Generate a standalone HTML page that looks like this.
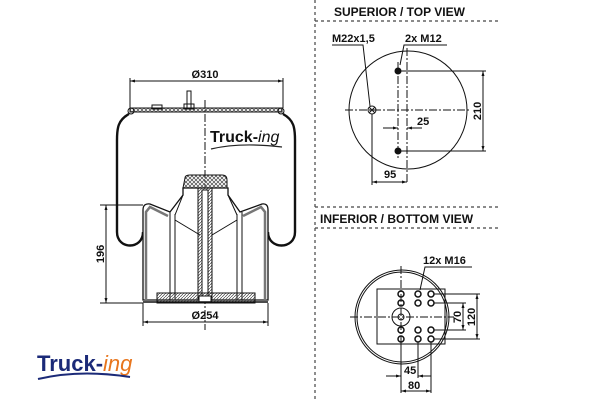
<!DOCTYPE html>
<html><head><style>
body{margin:0;background:#fff;width:600px;height:400px;overflow:hidden}
svg{display:block}
text{font-family:"Liberation Sans",sans-serif;font-weight:bold;fill:#111}
</style></head><body>
<svg width="600" height="400" viewBox="0 0 600 400">
<defs>
<pattern id="hx" width="4" height="4" patternUnits="userSpaceOnUse"><path d="M0 4L4 0M0 0L4 4" stroke="#444" stroke-width="0.7"/></pattern>
<pattern id="hd" width="3" height="3" patternUnits="userSpaceOnUse"><path d="M0 3L3 0" stroke="#444" stroke-width="0.7"/></pattern>
<marker id="a" viewBox="0 0 10 10" refX="10" refY="5" markerWidth="5" markerHeight="5" orient="auto-start-reverse"><path d="M0 2L10 5L0 8z" fill="#111"/></marker>
</defs>
<g stroke="#444" stroke-width="1.2" stroke-dasharray="3,3" fill="none">
<line x1="315" y1="0" x2="315" y2="400"/>
<line x1="315" y1="21" x2="500" y2="21"/>
<line x1="315" y1="207" x2="500" y2="207"/>
<line x1="315" y1="228" x2="500" y2="228"/>
</g>
<text x="334" y="16" font-size="12">SUPERIOR / TOP VIEW</text>
<text x="320" y="223" font-size="12">INFERIOR / BOTTOM VIEW</text>

<!-- TOP VIEW -->
<g stroke="#111" fill="none" stroke-width="1">
<circle cx="408" cy="110" r="59"/>
<line x1="345" y1="110" x2="470" y2="110" stroke-dasharray="8,2,2,2"/>
<line x1="407" y1="48" x2="407" y2="182" stroke-dasharray="8,2,2,2"/>
<line x1="398" y1="62" x2="398" y2="160" stroke-dasharray="8,2,2,2"/>
<circle cx="372" cy="110" r="4"/>
<path d="M369 107l6 6M375 107l-6 6"/>
<line x1="398" y1="71" x2="486" y2="71"/><line x1="398" y1="151" x2="486" y2="151"/>
<line x1="483" y1="71" x2="483" y2="151" marker-start="url(#a)" marker-end="url(#a)"/>
<line x1="383" y1="128" x2="398" y2="128" marker-end="url(#a)"/>
<line x1="422" y1="128" x2="407" y2="128" marker-end="url(#a)"/>
<line x1="372" y1="114" x2="372" y2="185"/>
<line x1="372" y1="182" x2="407" y2="182" marker-start="url(#a)" marker-end="url(#a)"/>
<path d="M332 45H363L370 106" /><path d="M447 45H404L400 65"/>
</g>
<circle cx="398" cy="71" r="3.5" fill="#111"/><circle cx="398" cy="151" r="3.5" fill="#111"/>
<text x="332" y="42" font-size="11">M22x1,5</text>
<text x="405" y="42" font-size="11">2x M12</text>
<text x="417" y="125" font-size="11">25</text>
<text x="384" y="178" font-size="11">95</text>
<text transform="translate(481,111) rotate(-90)" text-anchor="middle" font-size="11">210</text>

<!-- BOTTOM VIEW -->
<g stroke="#111" fill="none" stroke-width="1">
<circle cx="402" cy="317" r="47"/><circle cx="402" cy="317" r="45"/>
<line x1="350" y1="317" x2="454" y2="317" stroke-dasharray="8,2,2,2"/>
<line x1="401" y1="266" x2="401" y2="368" stroke-dasharray="8,2,2,2"/>
<rect x="377" y="289" width="68" height="55"/>
<circle cx="401" cy="317" r="9"/><circle cx="401" cy="317" r="3"/>
<g stroke-width="1.5">
<circle cx="401" cy="294" r="3"/><circle cx="418" cy="294" r="3"/><circle cx="431" cy="294" r="3"/>
<circle cx="401" cy="303" r="3"/><circle cx="418" cy="303" r="3"/><circle cx="431" cy="303" r="3"/>
<circle cx="401" cy="330" r="3"/><circle cx="418" cy="330" r="3"/><circle cx="431" cy="330" r="3"/>
<circle cx="401" cy="339" r="3"/><circle cx="418" cy="339" r="3"/><circle cx="431" cy="339" r="3"/>
</g>
<path d="M434 303H466M434 330H466M434 294H480M434 339H480"/>
<line x1="463" y1="303" x2="463" y2="330" marker-start="url(#a)" marker-end="url(#a)"/>
<line x1="477" y1="294" x2="477" y2="339" marker-start="url(#a)" marker-end="url(#a)"/>
<path d="M401 342V393M418 342V378M431 342V393"/>
<line x1="386" y1="376" x2="401" y2="376" marker-end="url(#a)"/>
<line x1="431" y1="376" x2="418" y2="376" marker-end="url(#a)"/>
<line x1="401" y1="391" x2="431" y2="391" marker-start="url(#a)" marker-end="url(#a)"/>
<path d="M472 267H425L420 290"/>
</g>
<text x="423" y="264" font-size="11">12x M16</text>
<text x="404" y="374" font-size="11">45</text>
<text x="408" y="389" font-size="11">80</text>
<text transform="translate(461,317) rotate(-90)" text-anchor="middle" font-size="11">70</text>
<text transform="translate(475,317) rotate(-90)" text-anchor="middle" font-size="11">120</text>

<!-- SIDE VIEW -->
<g stroke="#111" fill="none" stroke-width="1">
<line x1="130" y1="78" x2="130" y2="108"/><line x1="283" y1="78" x2="283" y2="108"/>
<line x1="130" y1="81" x2="283" y2="81" marker-start="url(#a)" marker-end="url(#a)"/>
<rect x="130" y="108" width="152" height="4" fill="url(#hx)"/>
<rect x="187" y="91" width="4" height="17"/><rect x="184" y="104" width="10" height="5"/>
<rect x="152" y="105" width="10" height="4"/>
<line x1="205" y1="100" x2="205" y2="330" stroke-dasharray="8,2,2,2"/>
<circle cx="131" cy="111" r="3"/><circle cx="281" cy="111" r="3"/>
<path d="M129 114C118 120 117 128 117 140V232C117 250 143 250 143 232" stroke-width="2.4"/>
<path d="M283 114C294 120 295 128 295 140V232C295 250 268 250 268 232" stroke-width="2.4"/>
<path d="M143 232V210Q143 203 150 204L170 212L183 195V188H228V195L240 212L262 204Q268 203 268 210V300H143Z" fill="#fff" stroke-width="1.3"/>
<path d="M146 300V212L150 207L168 216M265 300V212L261 207L243 216" stroke-width="2.5" stroke="#777"/>
<path d="M170 212V300M175 214V300M237 214V300M242 212V300"/>
<path d="M175 220L200 235M237 220L212 235M183 195L175 215M228 195L237 215"/>
<path d="M185 178Q185 175 190 175H222Q227 175 227 180V188H183Z" fill="url(#hx)"/>
<rect x="198" y="188" width="14" height="112" fill="url(#hd)"/>
<rect x="202" y="190" width="6" height="110" fill="#fff"/>
<rect x="157" y="293" width="98" height="10" fill="url(#hd)"/>
<rect x="199" y="296" width="12" height="7" fill="#fff"/>
<path d="M143 302H268" stroke-width="1.5"/>
<line x1="100" y1="205" x2="143" y2="205"/><line x1="100" y1="303" x2="143" y2="303"/>
<line x1="106" y1="205" x2="106" y2="303" marker-start="url(#a)" marker-end="url(#a)"/>
<line x1="143" y1="303" x2="143" y2="326"/><line x1="268" y1="303" x2="268" y2="326"/>
<line x1="143" y1="322" x2="268" y2="322" marker-start="url(#a)" marker-end="url(#a)"/>
</g>
<text x="205" y="78" font-size="11" text-anchor="middle">Ø310</text>
<text x="205" y="319" font-size="11" text-anchor="middle">Ø254</text>
<text transform="translate(104,254) rotate(-90)" text-anchor="middle" font-size="11">196</text>
<text x="210" y="142" font-size="16" style="font-family:'Liberation Sans Narrow','Liberation Sans',sans-serif">Truck-<tspan font-style="italic" font-weight="normal">ing</tspan></text>
<path d="M211 149Q240 142 282 147" stroke="#222" fill="none" stroke-width="1.2"/>

<text x="37" y="371" font-size="22" style="fill:#1b2a78;font-family:'Liberation Sans Narrow','Liberation Sans',sans-serif">Truck-<tspan font-style="italic" font-weight="normal" style="fill:#e8761e">ing</tspan></text>
<path d="M38 379Q80 369 130 377" stroke="#1b2a78" fill="none" stroke-width="2"/>
</svg>
</body></html>
